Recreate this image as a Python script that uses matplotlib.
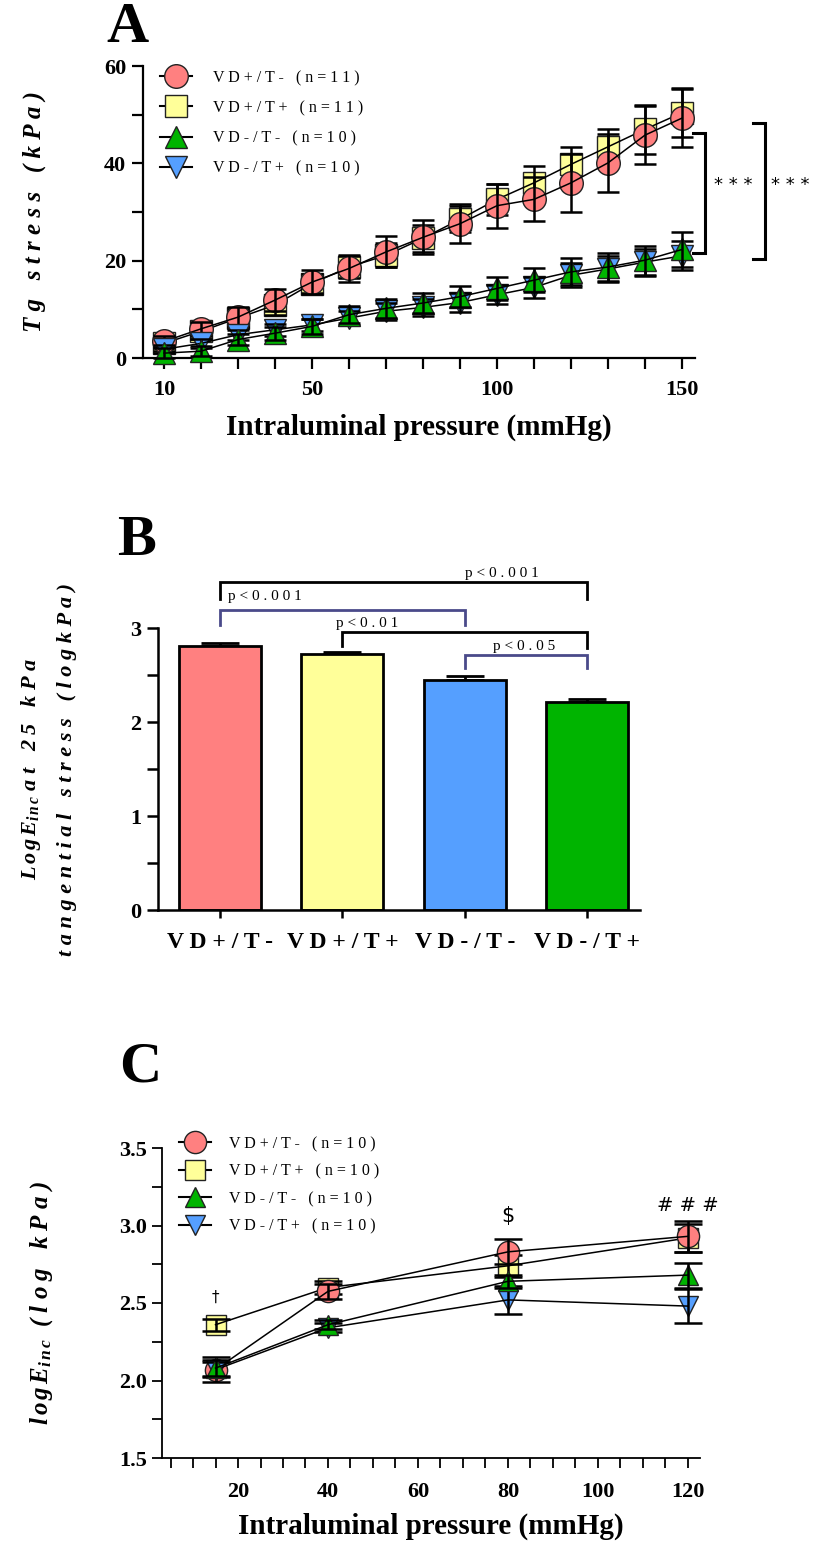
import numpy as np
import matplotlib
matplotlib.use('Agg')
import matplotlib.pyplot as plt
from matplotlib.lines import Line2D
from matplotlib.ticker import FixedLocator, MultipleLocator

plt.rcParams['font.family'] = ['Liberation Serif', 'DejaVu Serif']
plt.rcParams['mathtext.fontset'] = 'custom'
plt.rcParams['mathtext.rm'] = 'Liberation Serif:bold:italic'
plt.rcParams['mathtext.it'] = 'Liberation Serif:bold:italic'
plt.rcParams['mathtext.bf'] = 'Liberation Serif:bold:italic'

# ---------------- data ----------------
groups = ['VD+/T-', 'VD+/T+', 'VD-/T-', 'VD-/T+']

# Panel A: tangential stress vs pressure
pressure_A = [10, 20, 30, 40, 50, 60, 70, 80, 90, 100, 110, 120, 130, 140, 150]
a_vdp_tm = [3.4, 6.0, 8.4, 11.9, 15.6, 18.4, 21.8, 24.8, 27.6, 31.3, 32.6, 36.0, 40.1, 45.8, 49.3]
a_vdp_tm_err = [1.2, 1.5, 2.0, 2.2, 2.5, 2.8, 3.2, 3.5, 4.0, 4.5, 4.5, 6.0, 6.0, 6.0, 6.0]
a_vdp_tp = [3.0, 5.5, 8.2, 10.9, 15.3, 18.7, 21.1, 24.6, 28.5, 32.6, 36.0, 39.8, 43.4, 47.0, 50.4]
a_vdp_tp_err = [1.5, 1.5, 1.8, 2.0, 2.0, 2.3, 2.5, 2.8, 2.7, 3.2, 3.4, 3.6, 3.6, 5.0, 5.0]
a_vdm_tm = [1.0, 1.4, 3.8, 5.1, 6.5, 8.9, 10.2, 11.3, 12.6, 14.3, 16.0, 17.7, 18.7, 20.1, 22.3]
a_vdm_tm_err = [1.0, 1.0, 1.2, 1.3, 1.5, 1.8, 2.0, 2.0, 2.2, 2.3, 2.5, 2.8, 2.8, 3.0, 3.5]
a_vdm_tp = [1.8, 3.0, 4.8, 5.8, 6.8, 8.2, 9.6, 10.4, 11.4, 13.0, 14.5, 17.0, 18.3, 19.7, 21.0]
a_vdm_tp_err = [0.8, 1.0, 1.0, 1.2, 1.3, 1.5, 1.7, 1.8, 2.0, 2.0, 2.2, 2.5, 2.6, 2.8, 3.0]
n_A = [11, 11, 10, 10]

# Panel B: LogEinc at 25 kPa
b_values = [2.81, 2.72, 2.45, 2.21]
b_err = [0.03, 0.03, 0.04, 0.03]
b_pvals = ['p<0.001', 'p<0.001', 'p<0.01', 'p<0.05']

# Panel C: logEinc vs pressure
pressure_C = [15, 40, 80, 120]
c_vdp_tm = [2.07, 2.575, 2.83, 2.93]
c_vdp_tm_err = [0.08, 0.05, 0.08, 0.10]
c_vdp_tp = [2.36, 2.60, 2.74, 2.92]
c_vdp_tp_err = [0.04, 0.04, 0.07, 0.09]
c_vdm_tm = [2.08, 2.36, 2.64, 2.68]
c_vdm_tm_err = [0.05, 0.03, 0.04, 0.08]
c_vdm_tp = [2.07, 2.34, 2.52, 2.48]
c_vdm_tp_err = [0.05, 0.03, 0.09, 0.11]
n_C = [10, 10, 10, 10]

# ---------------- style ----------------
PINK = '#FF8080'
YEL = '#FFFF99'
GRN = '#00B400'
BLU = '#559FFF'
EDGE = '#222222'


def sp(s):
    return ' '.join(s)


W, H = 814, 1542
fig = plt.figure(figsize=(W / 100, H / 100), dpi=100)


def box(l, t, r, b):
    return [l / W, 1 - b / H, (r - l) / W, (b - t) / H]


def style_axes(ax, lw=1.6):
    for s in ['top', 'right']:
        ax.spines[s].set_visible(False)
    for s in ['left', 'bottom']:
        ax.spines[s].set_linewidth(lw)
    ax.tick_params(which='both', direction='out', length=8, width=lw, labelsize=16, pad=4)
    for lab in ax.get_xticklabels() + ax.get_yticklabels():
        lab.set_fontweight('bold')


def draw_series(ax, x, y, err, marker, color, ms, z, lw_line=1.1, cap=8, elw=1.8):
    ax.plot(x, y, linestyle='none', marker=marker, ms=ms, mfc=color, mec=EDGE,
            mew=1.0, zorder=z, clip_on=False)
    ax.plot(x, y, color='black', lw=lw_line, zorder=z + 0.5, clip_on=False)
    ax.errorbar(x, y, yerr=err, fmt='none', ecolor='black', elinewidth=elw,
                capsize=cap, capthick=elw, zorder=z + 0.5, clip_on=False)


# ================= Panel A =================
axA = fig.add_axes(box(143, 66, 695, 358))
axA.set_xlim(4.3, 153.5)
axA.set_ylim(0, 60)
specA = [
    (a_vdp_tp, a_vdp_tp_err, 's', YEL, 16, 2),
    (a_vdp_tm, a_vdp_tm_err, 'o', PINK, 17, 3),
    (a_vdm_tp, a_vdm_tp_err, 'v', BLU, 16, 4),
    (a_vdm_tm, a_vdm_tm_err, '^', GRN, 16, 5),
]
for y, e, m, c, ms, z in specA:
    draw_series(axA, pressure_A, y, e, m, c, ms, z * 2)

axA.xaxis.set_major_locator(FixedLocator([10, 50, 100, 150]))
axA.xaxis.set_minor_locator(FixedLocator(pressure_A))
axA.yaxis.set_major_locator(FixedLocator([0, 20, 40, 60]))
axA.yaxis.set_minor_locator(MultipleLocator(10))
style_axes(axA)
axA.tick_params(axis='x', which='both', pad=8)
axA.set_xlabel('Intraluminal pressure (mmHg)', fontsize=21, fontweight='bold', labelpad=10)
axA.set_ylabel(sp('Tg stress (kPa)'), fontsize=18, fontweight='bold', style='italic', labelpad=42)

hA = [
    Line2D([], [], color='black', lw=1.5, marker='o', ms=17, mfc=PINK, mec=EDGE),
    Line2D([], [], color='black', lw=1.5, marker='s', ms=16, mfc=YEL, mec=EDGE),
    Line2D([], [], color='black', lw=1.5, marker='^', ms=16, mfc=GRN, mec=EDGE),
    Line2D([], [], color='black', lw=1.5, marker='v', ms=16, mfc=BLU, mec=EDGE),
]
labA = [sp('%s (n=%d)' % (g, n)) for g, n in zip(groups, n_A)]
axA.legend(hA, labA, loc='upper left', bbox_to_anchor=(160 / W, 1 - 70 / H),
           bbox_transform=fig.transFigure, frameon=False, fontsize=11.5,
           handlelength=2.0, handletextpad=1.3, labelspacing=0.88,
           borderpad=0, borderaxespad=0)

# significance brackets
for xv, xt, ytop, ybot, xtxt in [(156.2, 153.0, 46.2, 21.6, 163.8), (172.4, 169.2, 48.3, 20.3, 179.3)]:
    axA.plot([xt, xv, xv, xt], [ytop, ytop, ybot, ybot], color='black', lw=2.2,
             clip_on=False, solid_joinstyle='miter')
    axA.text(xtxt, 35.5, '* * *', fontsize=13, ha='center', va='center',
             family='DejaVu Sans', clip_on=False)

fig.text(127 / W, 1 - 28 / H, 'A', fontsize=42, fontweight='bold', ha='center', va='center')

# ================= Panel B =================
axB = fig.add_axes(box(158, 628, 640, 910))
xB = np.arange(len(groups))
colorsB = [PINK, YEL, BLU, GRN]
axB.bar(xB, b_values, width=0.67, color=colorsB, edgecolor='black', linewidth=2, zorder=2)
axB.errorbar(xB, b_values, yerr=[np.zeros(4), b_err], fmt='none', ecolor='black',
             elinewidth=2, capsize=14, capthick=2, zorder=1)
axB.set_xlim(-0.506, 3.43)
axB.set_ylim(0, 3)
axB.yaxis.set_major_locator(FixedLocator([0, 1, 2, 3]))
axB.yaxis.set_minor_locator(MultipleLocator(0.5))
axB.set_xticks(xB)
axB.set_xticklabels([sp(g) for g in groups])
style_axes(axB, lw=1.8)
axB.tick_params(axis='x', length=6, labelsize=17, pad=10)
for lab in axB.get_xticklabels():
    lab.set_fontweight('bold')
axB.set_ylabel('$L\\,o\\,g\\,E_{i\\,n\\,c}$' + ' ' + sp('at 25 kPa') + '\n' + sp('tangential stress (logkPa)'),
               fontsize=16, fontweight='bold', style='italic', labelpad=38, linespacing=1.95)

# brackets: (x1, x2, y_bar, y_leg_left, y_leg_right, color, text, text_x, text_y)
NAVY = '#4A4A8A'
bracketsB = [
    (0, 3, 3.49, 3.31, 3.31, 'black', b_pvals[0], 2.3, 3.58),
    (0, 2, 3.19, 3.03, 3.03, NAVY, b_pvals[1], 0.37, 3.33),
    (1, 3, 2.96, 2.81, 2.79, 'black', b_pvals[2], 1.2, 3.05),
    (2, 3, 2.71, 2.57, 2.57, NAVY, b_pvals[3], 2.48, 2.80),
]
for x1, x2, yb, yl, yr, col, txt, tx, ty in bracketsB:
    axB.plot([x1, x1, x2, x2], [yl, yb, yb, yr], color=col, lw=2.0, clip_on=False,
             solid_joinstyle='miter')
    axB.text(tx, ty, sp(txt), fontsize=11, ha='center', va='center', clip_on=False)

fig.text(137 / W, 1 - 541 / H, 'B', fontsize=42, fontweight='bold', ha='center', va='center')

# ================= Panel C =================
axC = fig.add_axes(box(162, 1148, 700, 1458))
axC.set_xlim(3.1, 122.7)
axC.set_ylim(1.5, 3.5)
specC = [
    (c_vdp_tp, c_vdp_tp_err, 's', YEL, 15, 2),
    (c_vdp_tm, c_vdp_tm_err, 'o', PINK, 16, 3),
    (c_vdm_tp, c_vdm_tp_err, 'v', BLU, 15, 4),
    (c_vdm_tm, c_vdm_tm_err, '^', GRN, 15, 5),
]
for y, e, m, c, ms, z in specC:
    draw_series(axC, pressure_C, y, e, m, c, ms, z * 2, lw_line=1.1, cap=10, elw=1.8)

axC.xaxis.set_major_locator(FixedLocator([20, 40, 60, 80, 100, 120]))
axC.xaxis.set_minor_locator(MultipleLocator(5))
axC.yaxis.set_major_locator(MultipleLocator(0.5))
axC.yaxis.set_minor_locator(MultipleLocator(0.25))
axC.yaxis.set_major_formatter(matplotlib.ticker.FormatStrFormatter('%.1f'))
style_axes(axC, lw=1.3)
axC.tick_params(which='both', length=7)
axC.tick_params(axis='x', which='both', pad=10)
for lab in axC.get_xticklabels() + axC.get_yticklabels():
    lab.set_fontweight('bold')
axC.set_xlabel('Intraluminal pressure (mmHg)', fontsize=21, fontweight='bold', labelpad=8)
axC.set_ylabel('$l\\,o\\,g\\,E_{i\\,n\\,c}$' + '  ' + sp('(log kPa)'), fontsize=18,
               fontweight='bold', style='italic', labelpad=46)

hC = [
    Line2D([], [], color='black', lw=1.5, marker='o', ms=16, mfc=PINK, mec=EDGE),
    Line2D([], [], color='black', lw=1.5, marker='s', ms=15, mfc=YEL, mec=EDGE),
    Line2D([], [], color='black', lw=1.5, marker='^', ms=15, mfc=GRN, mec=EDGE),
    Line2D([], [], color='black', lw=1.5, marker='v', ms=15, mfc=BLU, mec=EDGE),
]
labC = [sp('%s (n=%d)' % (g, n)) for g, n in zip(groups, n_C)]
axC.legend(hC, labC, loc='upper left', bbox_to_anchor=(179 / W, 1 - 1136 / H),
           bbox_transform=fig.transFigure, frameon=False, fontsize=11.5,
           handlelength=2.0, handletextpad=1.1, labelspacing=0.72,
           borderpad=0, borderaxespad=0)

axC.text(pressure_C[0], 2.535, '\u2020', fontsize=11, ha='center', va='center', family='DejaVu Sans')
axC.text(pressure_C[2], 3.06, '$', fontsize=15, ha='center', va='center', family='DejaVu Sans')
axC.text(pressure_C[3], 3.13, '# # #', fontsize=14, ha='center', va='center', family='DejaVu Sans')

fig.text(140 / W, 1 - 1067 / H, 'C', fontsize=42, fontweight='bold', ha='center', va='center')

fig.savefig('out.png', dpi=100)
